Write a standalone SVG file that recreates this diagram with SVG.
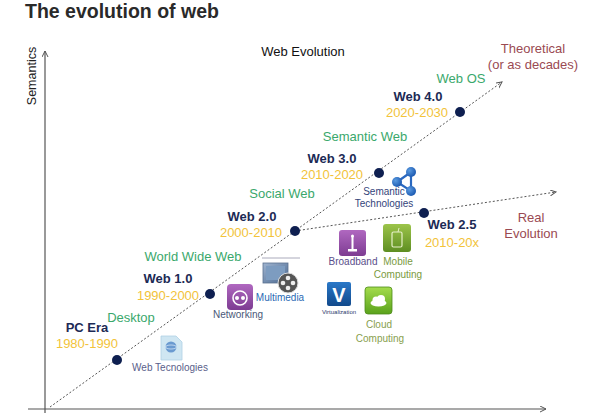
<svg xmlns="http://www.w3.org/2000/svg" width="600" height="415" viewBox="0 0 600 415">
<defs>
<marker id="arr" markerWidth="8" markerHeight="8" refX="6" refY="3" orient="auto" markerUnits="userSpaceOnUse">
<path d="M0,0 L6,3 L0,6" fill="none" stroke="#555" stroke-width="1"/>
</marker>
<linearGradient id="gPur" x1="0" y1="0" x2="0" y2="1"><stop offset="0" stop-color="#b068c0"/><stop offset="1" stop-color="#7d3c92"/></linearGradient>
<linearGradient id="gGrn" x1="0" y1="0" x2="0" y2="1"><stop offset="0" stop-color="#9cc44a"/><stop offset="1" stop-color="#5e8e22"/></linearGradient>
<linearGradient id="gCld" x1="0" y1="0" x2="0" y2="1"><stop offset="0" stop-color="#a4dc4c"/><stop offset="1" stop-color="#5aa21c"/></linearGradient>
<linearGradient id="gBlu" x1="0" y1="0" x2="0" y2="1"><stop offset="0" stop-color="#2a78c8"/><stop offset="1" stop-color="#124a8c"/></linearGradient>
<linearGradient id="gScr" x1="0" y1="0" x2="1" y2="1"><stop offset="0" stop-color="#9fb4d0"/><stop offset="1" stop-color="#4a6890"/></linearGradient>
<radialGradient id="gNode" cx="0.35" cy="0.35" r="0.7"><stop offset="0" stop-color="#5a9ae0"/><stop offset="1" stop-color="#1a58b0"/></radialGradient>
</defs>
<style>
text{font-family:"Liberation Sans",Arial,sans-serif;}
.t{font-size:13px;text-anchor:middle;}
.era{font-size:13px;font-weight:bold;fill:#1c2a55;text-anchor:middle;}
.yr{font-size:13px;fill:#f2c33a;text-anchor:middle;}
.gr{font-size:13px;fill:#3aa86c;text-anchor:middle;}
.br{font-size:13px;fill:#9a4a52;text-anchor:middle;}
.ic{font-size:10px;text-anchor:middle;}
.dot{fill:#0e1f50;}
.axis{stroke:#555;stroke-width:1.2;fill:none;}
.dl{stroke:#555;stroke-width:1;stroke-dasharray:2,2;fill:none;}
</style>
<rect width="600" height="415" fill="#fff"/>
<text x="25" y="18" style="font-size:19.5px;font-weight:bold;fill:#2a2a2a">The evolution of web</text>
<text x="303" y="56" class="t" fill="#111">Web Evolution</text>
<text transform="translate(36,76) rotate(-90)" style="font-size:12.5px;text-anchor:middle" fill="#222">Semantics</text>

<g id="connectors">
<line class="axis" x1="45" y1="413" x2="45" y2="51" marker-end="url(#arr)"/>
<line class="axis" x1="28" y1="409" x2="546" y2="409" marker-end="url(#arr)"/>
<line class="dl" x1="50" y1="407" x2="502" y2="82" marker-end="url(#arr)"/>
<line class="dl" x1="295" y1="231" x2="556" y2="192" marker-end="url(#arr)"/>
</g>

<g id="theoretical"><text x="533" y="53" class="br">Theoretical</text><text x="533" y="69" class="br">(or as decades)</text></g>
<g id="real"><text x="531" y="222" class="br">Real</text><text x="531" y="238" class="br">Evolution</text></g>

<g id="pc-era"><circle class="dot" cx="117" cy="360" r="5"/><text x="87" y="332" class="era">PC Era</text><text x="87" y="348" class="yr">1980-1990</text><text x="131" y="322" class="gr">Desktop</text></g>
<g id="web1"><circle class="dot" cx="210" cy="294" r="5"/><text x="168" y="283" class="era">Web 1.0</text><text x="168" y="300" class="yr">1990-2000</text><text x="193" y="261" class="gr">World Wide Web</text></g>
<g id="web2"><circle class="dot" cx="295" cy="231" r="5"/><text x="252" y="221" class="era">Web 2.0</text><text x="251" y="237" class="yr">2000-2010</text><text x="282" y="198" class="gr">Social Web</text></g>
<g id="web3"><circle class="dot" cx="379" cy="173" r="5"/><text x="332" y="163" class="era">Web 3.0</text><text x="332" y="179" class="yr">2010-2020</text><text x="365" y="141" class="gr">Semantic Web</text></g>
<g id="web4"><circle class="dot" cx="460" cy="112" r="5"/><text x="418" y="101" class="era">Web 4.0</text><text x="417" y="117" class="yr">2020-2030</text><text x="461" y="83" class="gr">Web OS</text></g>
<g id="web25"><circle class="dot" cx="424" cy="213" r="5"/><text x="452" y="229" class="era">Web 2.5</text><text x="452" y="247" class="yr">2010-20x</text></g>

<g id="web-tech">
<path d="M161,336 L176,336 L182,342 L182,360 L161,360 Z" fill="#cfe6f2" stroke="#b0d0e4" stroke-width="0.8"/>
<circle cx="171" cy="347" r="5.5" fill="#6a9ad0"/>
<ellipse cx="171" cy="347" rx="5.5" ry="2" fill="none" stroke="#e0eefa" stroke-width="0.7"/>
<text x="170" y="371" class="ic" fill="#5a5e8a">Web Tecnologies</text>
</g>
<g id="networking">
<rect x="227" y="284" width="26" height="26" rx="4" fill="url(#gPur)"/>
<circle cx="240" cy="298" r="7" fill="none" stroke="#fff" stroke-width="1.6"/>
<circle cx="237" cy="298" r="2" fill="#fff"/><circle cx="243" cy="298" r="2" fill="#fff"/>
<text x="238" y="318" class="ic" fill="#4a5878">Networking</text>
</g>
<g id="multimedia">
<line x1="262" y1="258" x2="300" y2="258" stroke="#aab" stroke-width="1"/>
<rect x="263" y="263" width="25" height="20" fill="url(#gScr)" stroke="#5a7090" stroke-width="0.8"/>
<rect x="266" y="266" width="19" height="14" fill="#7d9cc0"/>
<circle cx="288" cy="283" r="10" fill="#555" stroke="#ddd" stroke-width="1"/>
<circle cx="288" cy="278" r="2.3" fill="#eee"/><circle cx="288" cy="288" r="2.3" fill="#eee"/>
<circle cx="283" cy="283" r="2.3" fill="#eee"/><circle cx="293" cy="283" r="2.3" fill="#eee"/>
<text x="280" y="301" class="ic" fill="#2a6ab4">Multimedia</text>
</g>
<g id="semantic-tech">
<path d="M411,172 L397,182 L411,191 Z" fill="none" stroke="#2a68c0" stroke-width="2.2"/>
<circle cx="411" cy="172" r="5" fill="url(#gNode)"/>
<circle cx="397" cy="182" r="5" fill="url(#gNode)"/>
<circle cx="411" cy="191" r="5" fill="url(#gNode)"/>
<text x="384" y="195" class="ic" fill="#34447a">Semantic</text>
<text x="384" y="207" class="ic" fill="#34447a">Technologies</text>
</g>
<g id="broadband">
<rect x="339" y="230" width="27" height="26" rx="3" fill="url(#gPur)"/>
<rect x="351.5" y="236" width="2" height="14" fill="#fff"/>
<rect x="348" y="249" width="9" height="2.5" fill="#fff"/>
<circle cx="352.5" cy="236" r="1.5" fill="#fff"/>
<text x="353" y="265" class="ic" fill="#5a4e8a">Broadband</text>
</g>
<g id="mobile">
<rect x="383" y="224" width="28" height="28" rx="3" fill="url(#gGrn)"/>
<rect x="392" y="232" width="10" height="15" rx="1.5" fill="none" stroke="#e6f0c8" stroke-width="1.2"/>
<line x1="398" y1="232" x2="399" y2="228" stroke="#e6f0c8" stroke-width="1"/>
<text x="398" y="265" class="ic" fill="#7a9a40">Mobile</text>
<text x="398" y="278" class="ic" fill="#7a9a40">Computing</text>
</g>
<g id="virtualization">
<rect x="327" y="282" width="24" height="24" rx="2" fill="url(#gBlu)"/>
<text x="339" y="302" style="font-size:20px;font-weight:bold;text-anchor:middle" fill="#fff">V</text>
<text x="339" y="314" style="font-size:6px;text-anchor:middle" fill="#2a3a6a">Virtualization</text>
</g>
<g id="cloud">
<rect x="365" y="287" width="27" height="27" rx="3" fill="url(#gCld)" stroke="#4c8a1a" stroke-width="0.8"/>
<ellipse cx="378.5" cy="303" rx="8" ry="3.5" fill="#fff"/>
<circle cx="376" cy="300" r="3.5" fill="#fff"/><circle cx="381" cy="299" r="4" fill="#fff"/>
<text x="379" y="328" class="ic" fill="#88a04e">Cloud</text>
<text x="380" y="342" class="ic" fill="#88a04e">Computing</text>
</g>
</svg>
